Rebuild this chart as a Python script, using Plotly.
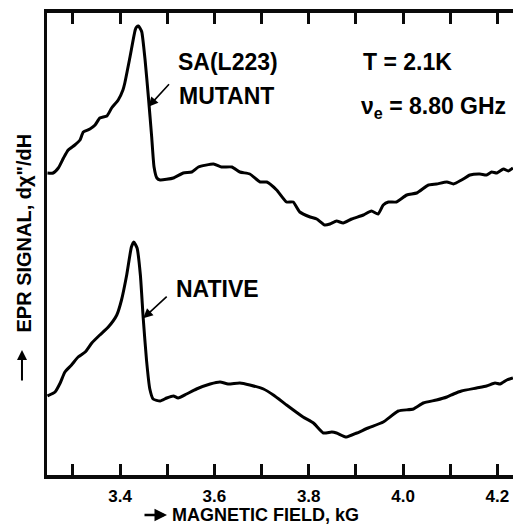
import plotly.graph_objects as go

# Magnetic field (kG) and EPR derivative signal (arbitrary units)
mutant_field = [3.246, 3.258, 3.269, 3.280, 3.290, 3.304, 3.315, 3.322, 3.336, 3.347,
                3.357, 3.372, 3.382, 3.396, 3.406, 3.410, 3.421, 3.432, 3.435, 3.439,
                3.442, 3.446, 3.453, 3.460, 3.467, 3.472, 3.478, 3.485, 3.513, 3.534,
                3.552, 3.566, 3.598, 3.615, 3.637, 3.654, 3.675, 3.697, 3.711, 3.732,
                3.753, 3.767, 3.781, 3.803, 3.817, 3.834, 3.845, 3.859, 3.873, 3.891,
                3.916, 3.933, 3.947, 3.958, 3.969, 3.986, 4.008, 4.029, 4.054, 4.071,
                4.093, 4.107, 4.124, 4.142, 4.163, 4.177, 4.188, 4.199, 4.213, 4.223,
                4.233]
mutant_signal = [302, 302, 307, 317, 325, 330, 335, 343, 346, 350,
                 357, 359, 367, 375, 385, 392, 418, 445, 448, 449,
                 447, 443, 415, 378, 338, 308, 297, 295, 297, 302,
                 303, 308, 311, 308, 308, 303, 301, 293, 293, 285,
                 273, 273, 263, 258, 256, 250, 251, 254, 252, 256,
                 260, 264, 261, 270, 273, 273, 280, 282, 290, 291,
                 293, 291, 295, 300, 301, 300, 303, 302, 306, 304,
                 307]

native_field = [3.246, 3.262, 3.273, 3.283, 3.297, 3.311, 3.326, 3.340, 3.357, 3.375,
                3.393, 3.403, 3.414, 3.424, 3.429, 3.436, 3.443, 3.449, 3.456, 3.463,
                3.470, 3.485, 3.499, 3.513, 3.523, 3.541, 3.562, 3.591, 3.612, 3.629,
                3.654, 3.675, 3.704, 3.725, 3.753, 3.788, 3.810, 3.831, 3.849, 3.859,
                3.880, 3.902, 3.926, 3.958, 3.990, 4.022, 4.043, 4.071, 4.093, 4.107,
                4.124, 4.156, 4.177, 4.195, 4.206, 4.220, 4.233]
native_signal = [79, 83, 92, 103, 110, 118, 123, 132, 140, 148,
                 160, 175, 200, 228, 233, 227, 200, 157, 115, 86,
                 76, 74, 77, 79, 77, 81, 86, 91, 93, 91,
                 92, 90, 86, 80, 70, 58, 52, 42, 43, 42,
                 38, 42, 47, 53, 64, 66, 72, 75, 78, 81,
                 84, 87, 89, 92, 91, 95, 97]

tick_values = [3.3, 3.4, 3.5, 3.6, 3.7, 3.8, 3.9, 4.0, 4.1, 4.2]
tick_labels = ["", "3.4", "", "3.6", "", "3.8", "", "4.0", "", "4.2"]

x_range = [3.245, 4.248]   # right end lies just beyond the visible window
y_range = [0, 462]

fig = go.Figure()
for fx, sy in [(mutant_field, mutant_signal), (native_field, native_signal)]:
    fig.add_trace(go.Scatter(x=fx, y=sy, mode="lines",
                             line=dict(color="black", width=3, shape="spline", smoothing=0.5),
                             showlegend=False, hoverinfo="skip"))
# invisible trace so that the top axis (x2) is drawn
fig.add_trace(go.Scatter(x=[x_range[0]], y=[y_range[0]], xaxis="x2", mode="markers",
                         marker=dict(opacity=0), showlegend=False, hoverinfo="skip"))

LAB = dict(family="Liberation Sans, Arial, sans-serif", size=23, color="black", weight="bold")
SANS = "Liberation Sans, Arial, sans-serif"
AXC = "rgb(10,10,10)"

ann = [
    dict(x=3.518, y=413.5, text="SA(L223)", xanchor="left", yanchor="middle", showarrow=False, font=LAB),
    dict(x=3.521, y=379, text="MUTANT", xanchor="left", yanchor="middle", showarrow=False, font=LAB),
    dict(x=3.911, y=413.5, text="T = 2.1K", xanchor="left", yanchor="middle", showarrow=False, font=LAB),
    dict(x=3.907, y=368, text="<b>ν</b><sub>e</sub> = 8.80 GHz", xanchor="left", yanchor="middle",
         showarrow=False, font=LAB),
    dict(x=3.514, y=186.5, text="NATIVE", xanchor="left", yanchor="middle", showarrow=False, font=LAB),
    # pointer arrows
    dict(x=3.460, y=368.3, ax=22, ay=-24, text="", showarrow=True, arrowhead=2, arrowsize=1.2,
         arrowwidth=1.6, arrowcolor="black"),
    dict(x=3.449, y=156.7, ax=25, ay=-23, text="", showarrow=True, arrowhead=2, arrowsize=1.2,
         arrowwidth=1.6, arrowcolor="black"),
    # y-axis title with upward arrow
    dict(xref="paper", yref="paper", x=-0.0507, y=0.5227, text="EPR SIGNAL, dχ\"/dH", textangle=-90,
         showarrow=False, xanchor="center", yanchor="middle",
         font=dict(family=SANS, size=20, color="black", weight="bold")),
    dict(xref="paper", yref="paper", x=-0.0529, y=0.2706, ax=0, ay=32, text="", showarrow=True,
         arrowhead=2, arrowsize=1, arrowwidth=2, arrowcolor="black"),
    # x-axis title with rightward arrow
    dict(xref="paper", yref="paper", x=0.4609, y=-0.0866, text="MAGNETIC FIELD, kG", showarrow=False,
         xanchor="center", yanchor="middle",
         font=dict(family=SANS, size=18, color="black", weight="bold")),
    dict(xref="paper", yref="paper", x=0.2537, y=-0.0866, ax=-24, ay=0, text="", showarrow=True,
         arrowhead=2, arrowsize=1, arrowwidth=2.5, arrowcolor="black"),
]

axis_common = dict(range=x_range, tickvals=tick_values,
                   ticks="inside", ticklen=11, tickwidth=3, tickcolor=AXC,
                   showline=True, linecolor=AXC, linewidth=3.5,
                   showgrid=False, zeroline=False, layer="above traces")

fig.update_layout(
    width=520, height=527,
    margin=dict(l=47, r=0, t=13, b=52),
    paper_bgcolor="white", plot_bgcolor="white",
    annotations=ann,
    xaxis=dict(**axis_common, ticktext=tick_labels, ticklabelstandoff=3,
               tickfont=dict(family=SANS, size=17, color="black", weight="bold")),
    xaxis2=dict(**axis_common, overlaying="x", side="top", anchor="y", showticklabels=False),
    yaxis=dict(range=y_range, showline=True, linecolor=AXC, linewidth=3,
               showticklabels=False, ticks="", showgrid=False, zeroline=False),
)

fig.write_html("out.html", config={"displayModeBar": False},
               post_script="document.body.style.margin='0';"
                           "document.documentElement.style.overflow='hidden';")
